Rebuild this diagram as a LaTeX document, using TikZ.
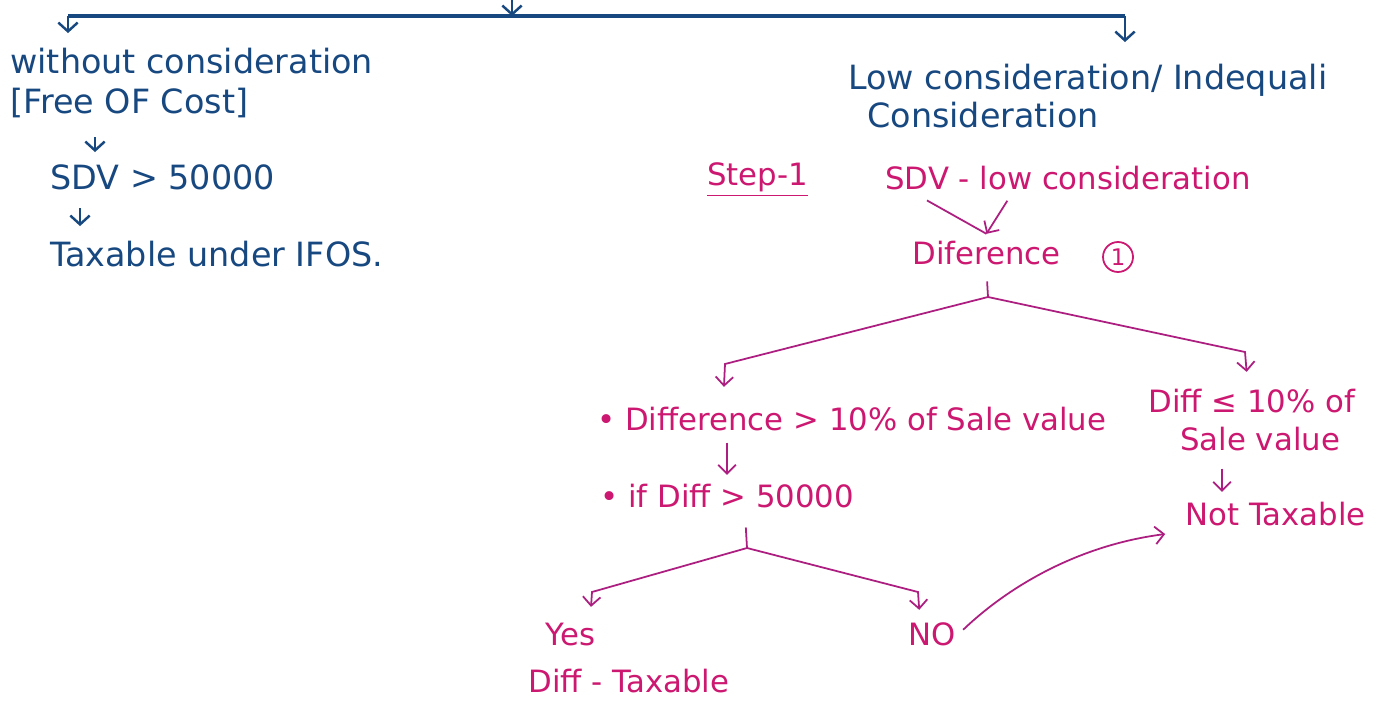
\documentclass[tikz,border=0pt]{standalone}
\usepackage{fontspec}
\setmainfont{DejaVu Sans}
\usepackage{tikz}
\usetikzlibrary{arrows.meta, calc}
\definecolor{inkblue}{RGB}{24,72,128}
\definecolor{inkpink}{RGB}{204,24,112}
\definecolor{inkplum}{RGB}{172,30,128}

\begin{document}
\begin{tikzpicture}[x=0.2mm, y=-0.2mm,
  bluetxt/.style={inkblue, font=\fontsize{19}{23}\selectfont, anchor=base west, inner sep=0pt, text height=14pt, text depth=4pt},
  pinktxt/.style={inkpink, font=\fontsize{17.5}{21}\selectfont, anchor=base west, inner sep=0pt, text height=13pt, text depth=3.5pt},
  bluearr/.style={inkblue, line width=1.4pt, -{Straight Barb[length=5pt,width=11pt]}},
  pinkarr/.style={inkplum, line width=1pt, -{Straight Barb[length=5pt,width=10pt]}},
  pinkline/.style={inkplum, line width=1pt}]
  % Frame
  \fill[white] (0,0) rectangle (1382,704);
  \useasboundingbox (0,0) rectangle (1382,704);
  % Top bar
  \coordinate (top) at (512,0);
  \coordinate (barL) at (68,16);
  \coordinate (barM) at (512,16);
  \coordinate (barR) at (1125,16);
  \draw[inkblue, line width=1.8pt] (barL) -- (barR);
  \draw[bluearr] (top) -- (barM);
  % Left branch -- without consideration
  \node[bluetxt] (without) at (10,74) {without consideration};
  \node[bluetxt] (free) at (10,114) {[Free OF Cost]};
  \node[bluetxt] (sdvA) at (50,190) {SDV > 50000};
  \node[bluetxt] (ifos) at (50,266) {Taxable under IFOS.};
  \draw[bluearr, shorten >=3.2mm] (barL) -- (68,0 |- without.north);
  \draw[bluearr, shorten <=3.2mm, shorten >=2.6mm] (95,0 |- free.south) -- (95,0 |- sdvA.north);
  \draw[bluearr, shorten <=2.2mm, shorten >=3mm] (80,0 |- sdvA.south) -- (80,0 |- ifos.north);
  % Right branch -- low consideration
  \node[bluetxt] (low) at (848,90) {Low consideration/ Indequali};
  \node[bluetxt] (consid) at (867,128) {Consideration};
  \draw[bluearr, shorten >=4.6mm] (barR) -- (barR |- low.north);
  % Step 1
  \node[pinktxt] (step) at (707,186) {\underline{Step-1}};
  \node[pinktxt] (sdvB) at (885,190) {SDV - low consideration};
  \node[pinktxt] (diff) at (912,264) {Diference};
  \node[inkpink, draw, circle, line width=1pt, minimum size=6mm, inner sep=0pt, font=\fontsize{13}{15}\selectfont] (one) at (1118,257) {1};
  \draw[pinkline, shorten <=1.6mm] (920,0 |- sdvB.south) -- ([yshift=1.4mm]diff.north);
  \draw[pinkarr, shorten <=1mm] (1010,0 |- sdvB.south) -- ([yshift=1.4mm]diff.north);
  \coordinate (splitA) at (988,297);
  \draw[pinkline, shorten <=2.2mm] (diff.south) -- (splitA);
  % Difference checks
  \node[pinktxt] (gt) at (597,430) {• Difference > 10\% of Sale value};
  \node[pinktxt] (leA) at (1148,412) {Diff ≤ 10\% of};
  \node[pinktxt] (leB) at (1180,450) {Sale value};
  \node[pinktxt] (nottax) at (1185,525) {Not Taxable};
  \draw[pinkarr, shorten >=4mm] (splitA) -- (725,364) -- (723,0 |- gt.north);
  \draw[pinkarr, shorten >=3.4mm] (splitA) -- (1245,352) -- (1248,0 |- leA.north);
  \draw[pinkarr, shorten <=2.4mm, shorten >=2mm] (1222,0 |- leB.south) -- (1222,0 |- nottax.north);
  % If diff above limit
  \node[pinktxt] (ifdiff) at (600,507) {• if Diff > 50000};
  \draw[pinkarr, shorten <=1.2mm, shorten >=1.8mm] (727,0 |- gt.south) -- (727,0 |- ifdiff.north);
  \coordinate (splitB) at (747,548);
  \draw[pinkline, shorten <=2.8mm] (745,0 |- ifdiff.south) -- (splitB);
  \node[pinktxt] (yes) at (545,645) {Yes};
  \node[pinktxt] (no) at (908,645) {NO};
  \node[pinktxt] (difftax) at (528,692) {Diff - Taxable};
  \draw[pinkarr, shorten >=3mm] (splitB) -- (592,592) -- (590,0 |- yes.north);
  \draw[pinkarr, shorten >=2.4mm] (splitB) -- (918,592) -- (920,0 |- no.north);
  \draw[pinkarr, shorten <=2mm, shorten >=4mm] (no.east) .. controls (1010,585) and (1080,545) .. (nottax.south west);
\end{tikzpicture}
\end{document}
